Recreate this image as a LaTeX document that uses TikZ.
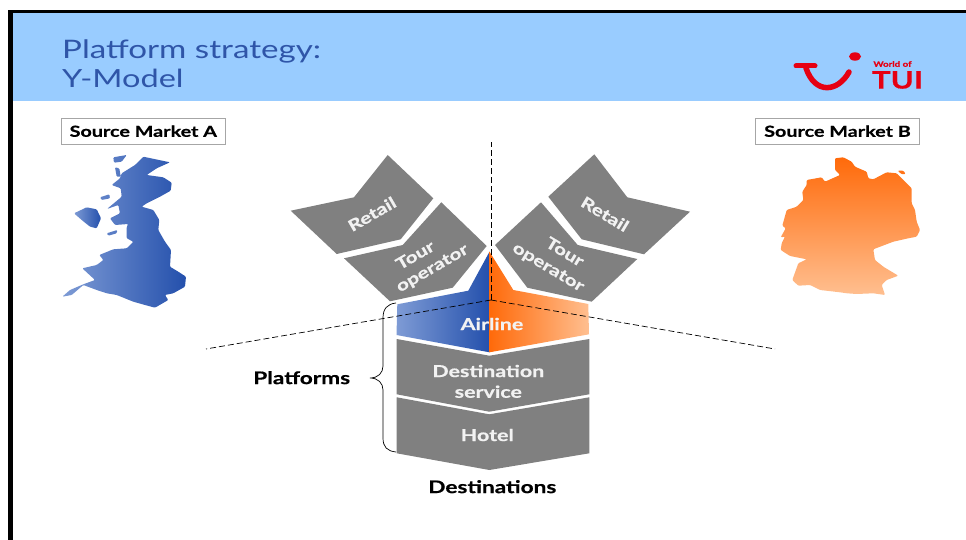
\documentclass[tikz,border=0pt]{standalone}
\usepackage{xcolor}
\usepackage{fontspec}
\setmainfont{Lato}[FakeStretch=1.3,BoldFeatures={FakeBold=0.6}]
\newfontfamily\turnedfont{Lato}[BoldFeatures={FakeBold=0.6}]
\newcommand{\turned}[1]{\scalebox{1.3}[1]{#1}}
\definecolor{headblue}{HTML}{99CCFF}
\definecolor{titleblue}{HTML}{2F55A8}
\definecolor{darkblue}{HTML}{2450AC}
\definecolor{lightblue}{HTML}{7E9BD5}
\definecolor{darkorange}{HTML}{FF6A0A}
\definecolor{lightorange}{HTML}{FFBF90}
\definecolor{tuired}{HTML}{E60012}
\tikzset{
	block/.style={fill=black!50},
	blocktext/.style={text=white!95!black, font=\bfseries\fontsize{16.5}{18}\selectfont, inner sep=0pt, align=center},
	turntext/.style={text=white!95!black, font=\turnedfont\bfseries\fontsize{16}{18}\selectfont, inner sep=0pt},
	market/.style={draw=black!35, fill=white, line width=0.8pt, font=\bfseries\fontsize{15.2}{17}\selectfont, minimum width=164pt, minimum height=26pt, inner sep=0pt},
	plain/.style={font=\bfseries\fontsize{17.4}{18}\selectfont, inner sep=0pt},
	axisline/.style={dashed, line width=0.7pt, dash pattern=on 6pt off 3pt},
	map/.style={rounded corners=1pt},
}
\begin{document}
\begin{tikzpicture}[x=1pt,y=-1pt]
		\useasboundingbox (0,0) rectangle (966,540);
		\fill[headblue] (12,13) rectangle (966,101);
		\fill[black] (8,10) rectangle (966,13.5);
		\fill[black] (8,10) rectangle (12.5,540);
		\node[anchor=base west, text=titleblue, font=\fontsize{25.5}{30}\selectfont, inner sep=0pt] (title1) at (62,58.5) {Platform strategy:};
		\node[anchor=base west, text=titleblue, font=\fontsize{25}{30}\selectfont, inner sep=0pt] (title2) at (62,88) {Y-Model};

		% logo
		\draw[tuired, line width=5pt, line cap=round] (796,66) -- (815,66);
		\draw[tuired, line width=5.5pt, line cap=round] (806,68) .. controls (815,95) and (838,92) .. (849,72);
		\fill[tuired] (855,56.5) ellipse (6pt and 4.2pt);
		\node[text=tuired, font=\bfseries\fontsize{7.5}{8}\selectfont, inner sep=0pt] (worldof) at (892.5,64) {World of};
		\node[text=tuired, font=\bfseries\fontsize{24}{24}\selectfont, inner sep=0pt] (tui) at (897.5,80) {TUI};

		\node[market] (marketa) at (143.3,131.2) {Source Market A};
		\node[market] (marketb) at (837.5,131.2) {Source Market B};

		% maps
		\shade[map, left color=lightblue, right color=darkblue]
			(143.3,156.7) -- (170,162.3) -- (156.7,168.3) -- (146.7,175) -- (163.3,177.3) -- (171.7,182.7) -- (170.7,190.7) -- (160,196.7) -- (146.7,203.3) -- (141.7,206.7) -- (153.3,210) -- (159.3,220) -- (158.3,230) -- (165,241.7) -- (171,250) -- (170,266.7) -- (178.3,271.7) -- (186,276.7) -- (185,286.7) -- (173.3,293.3) -- (165,295) -- (168.3,300) -- (155,307.7) -- (145,305) -- (133.3,301.7) -- (116.7,295) -- (106.7,293.3) -- (96.7,290) -- (83.3,285) -- (71.7,295) -- (62.3,296.7) -- (70,290) -- (83.3,284.3) -- (95,280) -- (82.3,268.3) -- (96.7,265) -- (103.3,260) -- (99.3,255) -- (113.3,249.3) -- (126.7,248.3) -- (133.3,241.7) -- (126.7,238.3) -- (126.7,226.7) -- (128.3,224) -- (115,225) -- (110,218.3) -- (120,213.3) -- (118.3,205) -- (107,209) -- (121.7,196.7) -- (120.7,188.3) -- (111.7,185) -- (120,178.3) -- (121.7,173.3) -- (135,165) -- cycle
			(113.3,157.3) -- (126.7,155) -- (121.7,161.7) -- (114,162.7) -- cycle
			(115,167.3) -- (119.3,168.3) -- (120.7,176.7) -- (116.7,176.7) -- cycle
			(100,197.3) -- (109.3,194.3) -- (110,198.3) -- (101.7,200) -- cycle
			(106.7,233.3) -- (117.3,230) -- (116.7,233.3) -- (108.3,235.7) -- cycle;
		\shade[map, left color=lightblue, right color=darkblue]
			(74,213.3) -- (86.7,207.3) -- (96.7,209.3) -- (101,218.3) -- (96.7,228.3) -- (90,226.7) -- (81.7,220) -- cycle;
		\shade[map, top color=darkorange, bottom color=lightorange]
			(835,158.3) -- (843.3,157.3) -- (851.7,161.7) -- (855,166.7) -- (866.7,171.7) -- (868.3,178.3) -- (873.3,179.3) -- (886.7,172.3) -- (896.7,173.3) -- (903.3,180) -- (911.7,188.3) -- (911.7,203.3) -- (915,210) -- (916.7,221.7) -- (920,230) -- (916.7,236.7) -- (908.3,238.3) -- (893.3,241.7) -- (873.3,249.3) -- (875,260) -- (883.3,266.7) -- (898.3,275.7) -- (886.7,280) -- (881.7,285) -- (885,295) -- (873.3,293.3) -- (856.7,294) -- (846.7,293.3) -- (840,292.3) -- (820,290) -- (810,285) -- (798.3,285.7) -- (792.3,280) -- (798.3,263.3) -- (806.7,259.3) -- (790,256) -- (780.7,250) -- (781.7,243.3) -- (785,236.7) -- (780.7,237.3) -- (785.7,228.3) -- (782.3,225.7) -- (786.7,210) -- (796.7,206.7) -- (803.3,200) -- (802.3,191.7) -- (806.7,185) -- (806.7,180) -- (821.7,177.3) -- (825,181.7) -- (840,175) -- (835,170) -- cycle
			(897.7,170.7) -- (903.3,170.7) -- (905.7,174) -- (901.7,174.3) -- cycle;

		% upper blocks
		\fill[block] (290.7,210.7) -- (354,197.3) -- (387.7,155) -- (433.3,198.3) -- (400.7,239.3) -- (336.7,254) -- cycle;
		\fill[block] (344,258.3) -- (402.7,245) -- (441.3,202.3) -- (486.7,246) -- (452.7,287.7) -- (390,301.3) -- cycle;
		\fill[block] (548.3,196.7) -- (594.3,154.3) -- (627.3,197.3) -- (690,211.7) -- (644,254.3) -- (581.7,239.3) -- cycle;
		\fill[block] (495,245) -- (541,202.3) -- (577.7,245) -- (637.3,259) -- (591.7,301.7) -- (527.3,287.7) -- cycle;

		% airline and lower blocks
		\shade[left color=lightblue, right color=darkblue] (489.5,251.7) -- (468.3,290.7) -- (397.3,304.3) -- (396.5,335) -- (489.5,352.3) -- cycle;
		\shade[left color=darkorange, right color=lightorange] (489.5,251.7) -- (513.3,290) -- (588.3,304) -- (589,334.3) -- (489.5,352.3) -- cycle;
		\fill[block] (396.7,339) -- (489.3,355.7) -- (589.3,339) -- (589.3,394.3) -- (489.3,411.7) -- (396.7,394.3) -- cycle;
		\fill[block] (396.7,397.3) -- (489.3,414.3) -- (589.3,397.3) -- (589.3,453.3) -- (489.3,470) -- (396.7,453.3) -- cycle;

		% Y axes
		\coordinate (ycentre) at (491,300);
		\coordinate (ytop) at (491,142);
		\coordinate (yleft) at (206,349);
		\coordinate (yright) at (775,349);
		\draw[axisline] (ycentre) -- (ytop);
		\draw[axisline] (ycentre) -- (yleft);
		\draw[axisline] (ycentre) -- (yright);

		% brace
		\coordinate (bracetop) at (396,303);
		\coordinate (bracetip) at (370,378);
		\coordinate (bracebottom) at (396,452);
		\draw[line width=0.7pt] (bracetop) .. controls (387,304) and (383,309) .. (383,318) -- (383,366) .. controls (383,373) and (378,378) .. (bracetip) .. controls (378,378) and (383,383) .. (383,390) -- (383,438) .. controls (383,447) and (387,451) .. (bracebottom);

		\node[turntext, rotate=30] (retaila) at (372,214) {\turned{Retail}};
		\node[turntext, rotate=30] (toura) at (415,255) {\turned{Tour}};
		\node[turntext, rotate=30] (operatora) at (432.7,269) {\turned{operator}};
		\node[turntext, rotate=-31] (retailb) at (605,214) {\turned{Retail}};
		\node[turntext, rotate=-31] (tourb) at (565,251.7) {\turned{Tour}};
		\node[turntext, rotate=-31] (operatorb) at (548,268) {\turned{operator}};
		\node[blocktext] (airline) at (492,324) {Airline};
		\node[blocktext] (destination) at (488.3,371) {Destination};
		\node[blocktext] (service) at (488.3,391.7) {service};
		\node[blocktext] (hotel) at (487.3,435) {Hotel};
		\node[plain] (platforms) at (301.7,377.7) {Platforms};
		\node[plain] (destinations) at (492.3,486.7) {Destinations};
	\end{tikzpicture}
\end{document}
